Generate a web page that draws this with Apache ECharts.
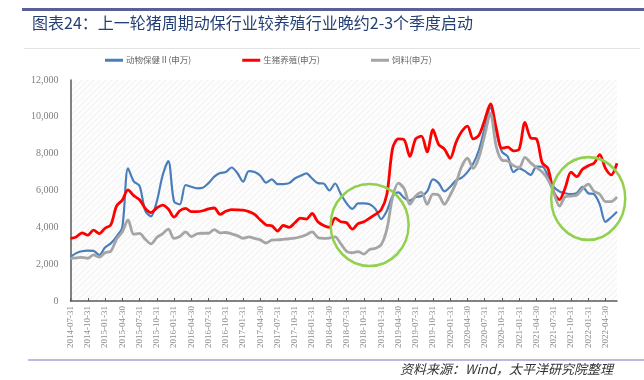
<!DOCTYPE html>
<html><head><meta charset="utf-8">
<script src="https://cdn.jsdelivr.net/npm/echarts@6/dist/echarts.min.js"></script>
<style>html,body{margin:0;padding:0;background:#fff}#c{width:644px;height:380px}</style>
</head><body><div id="c"></div>
<script>
const titleText = '图表24：上一轮猪周期动保行业较养殖行业晚约2-3个季度启动';
const sourceText = '资料来源：Wind，太平洋研究院整理';
const seriesNames = ['动物保健Ⅱ(申万)', '生猪养殖(申万)', '饲料(申万)'];
const dates = [
 '2014-07-31','2014-08-31','2014-09-30','2014-10-31','2014-11-30','2014-12-31',
 '2015-01-31','2015-02-28','2015-03-31','2015-04-30','2015-05-31','2015-06-30','2015-07-31','2015-08-31','2015-09-30','2015-10-31','2015-11-30','2015-12-31',
 '2016-01-31','2016-02-29','2016-03-31','2016-04-30','2016-05-31','2016-06-30','2016-07-31','2016-08-31','2016-09-30','2016-10-31','2016-11-30','2016-12-31',
 '2017-01-31','2017-02-28','2017-03-31','2017-04-30','2017-05-31','2017-06-30','2017-07-31','2017-08-31','2017-09-30','2017-10-31','2017-11-30','2017-12-31',
 '2018-01-31','2018-02-28','2018-03-31','2018-04-30','2018-05-31','2018-06-30','2018-07-31','2018-08-31','2018-09-30','2018-10-31','2018-11-30','2018-12-31',
 '2019-01-31','2019-02-28','2019-03-31','2019-04-30','2019-05-31','2019-06-30','2019-07-31','2019-08-31','2019-09-30','2019-10-31','2019-11-30','2019-12-31',
 '2020-01-31','2020-02-29','2020-03-31','2020-04-30','2020-05-31','2020-06-30','2020-07-31','2020-08-31','2020-09-30','2020-10-31','2020-11-30','2020-12-31',
 '2021-01-31','2021-02-28','2021-03-31','2021-04-30','2021-05-31','2021-06-30','2021-07-31','2021-08-31','2021-09-30','2021-10-31','2021-11-30','2021-12-31',
 '2022-01-31','2022-02-28','2022-03-31','2022-04-30','2022-05-31','2022-06-30'
];
const animalHealth = [
 2400,2600,2700,2730,2720,2500,2900,3130,3500,4000,
 7200,6500,6250,4900,4600,5400,6800,7600,5400,5250,
 6300,6200,6120,6150,6400,6750,6950,7000,7250,6950,
 6480,7050,7000,6800,6430,6600,6350,6350,6400,6650,
 6800,6930,6650,6400,6380,6000,6380,5800,5300,5000,
 5300,5300,5250,5000,4450,4900,5700,5900,5600,5450,
 5650,5700,5950,6600,6400,5950,6200,6550,6700,7000,
 7450,8200,9400,10500,9200,8100,7850,7000,7200,7050,
 6850,7300,7300,6800,6200,5950,5850,5800,5850,6200,
 5850,5800,5250,4300,4550,4850
];
const pigFarming = [
 3400,3480,3700,3580,3850,3660,3950,4130,5150,5480,
 6030,5720,5500,5030,4800,5050,5210,5000,4550,4900,
 5030,4850,4850,4900,5000,5050,4700,4870,4960,4950,
 4930,4850,4700,4400,4130,4080,3800,4100,4000,4250,
 4500,4450,4750,4300,4100,4000,4500,4300,4250,3900,
 4200,4300,4500,4700,4950,5800,8300,8800,8750,7850,
 8800,8950,8100,9300,8500,8250,7750,8600,9200,9500,
 8800,9000,9830,10700,9400,8300,8350,8150,8250,9700,
 8850,8800,7500,7200,5900,5500,6150,7000,6750,7150,
 7350,7480,7950,7200,6850,7480
];
const feed = [
 2320,2340,2370,2320,2500,2380,2620,2700,3350,3750,
 4400,3620,3670,3350,3100,3450,3650,3900,3400,3500,
 3750,3500,3650,3680,3680,3880,3700,3720,3650,3550,
 3400,3480,3400,3320,3150,3310,3320,3350,3380,3420,
 3490,3600,3750,3450,3400,3420,3480,3100,2700,2620,
 2680,2550,2800,2860,3050,3900,5650,6400,6100,5250,
 5700,5900,5250,5800,5750,5250,5750,6400,7300,7750,
 7200,7800,9000,10200,8400,7650,7600,7350,7250,7800,
 7500,7250,7000,6600,5900,5150,5650,5700,5750,6100,
 6350,5950,5800,5400,5400,5650
];
const yMin = 0, yMax = 12000, yStep = 2000;
// highlight circles: [category index, value] centers
const circleCenters = [[52.2, 4127], [90.3, 5566]];

const colors = ['#4a7ebb', '#ff0000', '#a5a5a5'];

// faint hatch pattern for plot background
const pc = document.createElement('canvas');
pc.width = 6; pc.height = 6;
const pctx = pc.getContext('2d');
pctx.fillStyle = '#fdfdfd'; pctx.fillRect(0,0,6,6);
pctx.strokeStyle = 'rgba(0,0,0,0.06)'; pctx.lineWidth = 1;
pctx.beginPath(); pctx.moveTo(0,6); pctx.lineTo(6,0); pctx.stroke();

const chart = echarts.init(document.getElementById('c'), null, {renderer: 'canvas'});
const serif = '"Liberation Serif", "DejaVu Serif", serif';
const cjk = '"Noto Sans CJK SC", sans-serif';

const option = {
  animation: false,
  backgroundColor: '#fff',
  grid: {left: 70.5, right: 27, top: 80, bottom: 79, show: true, borderWidth: 0,
         backgroundColor: {image: pc, repeat: 'repeat'}},
  legend: {
    left: 100, top: 51, icon: 'rect', itemWidth: 18, itemHeight: 3, itemGap: 51,
    textStyle: {fontSize: 8.5, color: '#666', fontFamily: cjk, padding: [0,0,0,-2]},
    data: seriesNames
  },
  xAxis: {
    type: 'category', data: dates, boundaryGap: false,
    axisLine: {lineStyle: {color: '#595959', width: 1.5}},
    axisTick: {show: true, inside: true, length: 3, interval: 2, lineStyle: {color: '#595959'}},
    axisLabel: {interval: 2, rotate: 90, fontFamily: serif, fontSize: 9, color: '#8c8c8c', margin: 5},
    splitLine: {show: false}
  },
  yAxis: {
    type: 'value', min: yMin, max: yMax, interval: yStep,
    axisLine: {show: true, lineStyle: {color: '#595959', width: 1.5}},
    axisTick: {show: false},
    splitLine: {show: false},
    axisLabel: {fontFamily: serif, fontSize: 10, color: '#7f7f7f', margin: 12,
      formatter: v => v.toLocaleString('en-US')}
  },
  series: [
    {name: seriesNames[0], type: 'line', data: animalHealth, showSymbol: false, smooth: 0.3,
     lineStyle: {width: 2.2, color: colors[0]}, itemStyle: {color: colors[0]}},
    {name: seriesNames[1], type: 'line', data: pigFarming, showSymbol: false, smooth: 0.3,
     lineStyle: {width: 2.8, color: colors[1]}, itemStyle: {color: colors[1]}},
    {name: seriesNames[2], type: 'line', data: feed, showSymbol: false, smooth: 0.3,
     lineStyle: {width: 2.8, color: colors[2]}, itemStyle: {color: colors[2]}}
  ]
};
chart.setOption(option);

const circles = circleCenters.map((c, k) => {
  const p = chart.convertToPixel({xAxisIndex: 0, yAxisIndex: 0}, c);
  return {type: 'circle', x: p[0], y: p[1], scaleX: 1, scaleY: k === 0 ? 1.05 : 1.12,
    shape: {cx: 0, cy: 0, r: k === 0 ? 39 : 37}, z: 100,
    style: {fill: 'none', stroke: '#92d050', lineWidth: 2.5}};
});

chart.setOption({graphic: [
  {type: 'line', shape: {x1: 22, y1: 9.5, x2: 644, y2: 9.5}, style: {stroke: '#5b5f97', lineWidth: 3}},
  {type: 'text', x: 32, y: 23, style: {text: titleText, font: '16px ' + cjk, fill: '#243f73', textVerticalAlign: 'middle'}},
  {type: 'line', shape: {x1: 24, y1: 48.5, x2: 640, y2: 48.5}, style: {stroke: '#e3e3e3', lineWidth: 1}},
  {type: 'line', shape: {x1: 28, y1: 360, x2: 644, y2: 360}, style: {stroke: '#a4a6d2', lineWidth: 1.5}},
  {type: 'text', x: 400, y: 369, style: {text: sourceText, font: 'italic 13px ' + cjk, fill: '#333', textVerticalAlign: 'middle'}},
  ...circles
]});
</script></body></html>
